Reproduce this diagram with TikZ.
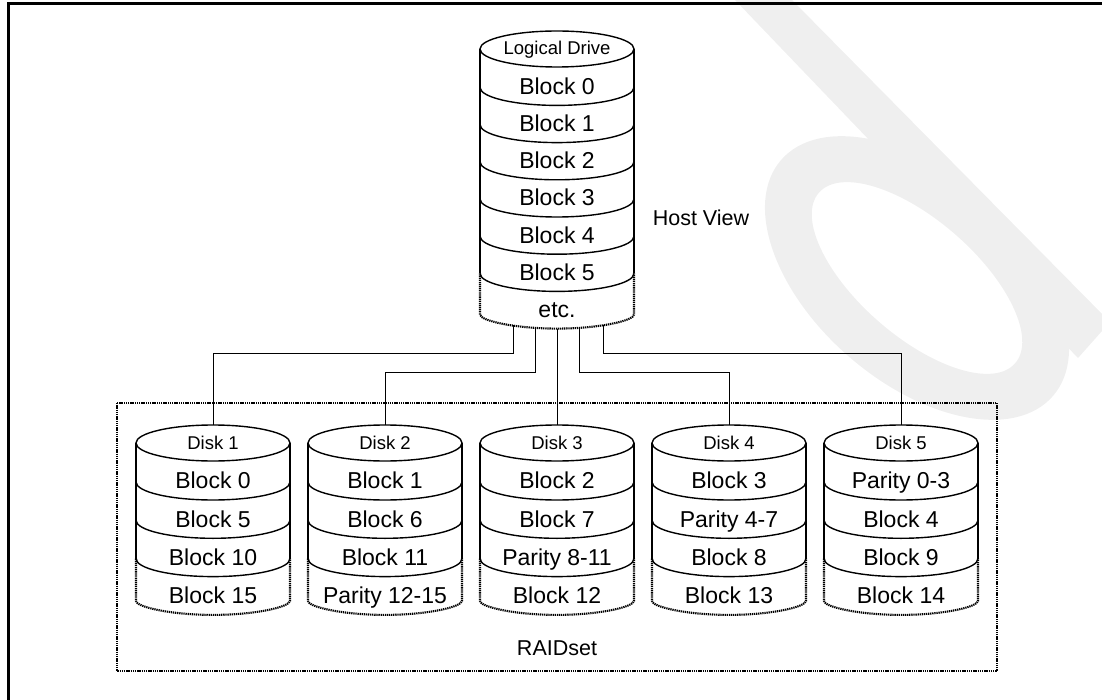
\documentclass[tikz,border=0pt]{standalone}
\usepackage{fontspec}
\setmainfont{Liberation Sans}

% a stacked drum: centre x, top-ellipse centre y, first divider y, row pitch, number of rows
\newcommand{\drum}[5]{%
  \pgfmathsetmacro\drumlast{#3+(#5-2)*#4}%
  \pgfmathsetmacro\drumbot{#3+(#5-1)*#4}%
  \pgfmathtruncatemacro\drumn{#5-1}%
  \draw[drumline] (#1,-#2) ellipse[x radius=77, y radius=18];
  \draw[drumline] (#1-77,-#2) -- (#1-77,-\drumlast) (#1+77,-#2) -- (#1+77,-\drumlast);
  \foreach \k in {1,...,\drumn}{%
    \pgfmathsetmacro\dy{#3+(\k-1)*#4}%
    \draw[drumline] (#1-77,-\dy) arc[start angle=180, end angle=360, x radius=77, y radius=18];
  }
  \draw[drumdots, rounded corners=4] (#1-77,-\drumlast) -- (#1-77,-\drumbot)
     arc[start angle=180, end angle=360, x radius=77, y radius=18] -- (#1+77,-\drumlast);
}

\definecolor{faint}{HTML}{EFEFEF}

\tikzset{
  drumline/.style={line width=1.4pt, black},
  drumdots/.style={line width=2.1pt, black, dash pattern=on 1.3pt off 0.8pt},
  wire/.style={line width=1pt, black},
  blk/.style={font=\fontsize{23}{26}\selectfont, anchor=base, inner sep=0pt},
  drumtitle/.style={font=\fontsize{18.5}{21}\selectfont, anchor=base, inner sep=0pt},
  tag/.style={font=\fontsize{21.5}{24}\selectfont, anchor=base, inner sep=0pt},
}

\begin{document}
\begin{tikzpicture}[x=1pt, y=1pt]
\useasboundingbox (0,0) rectangle (1102,-700);

% faint background mark
\begin{scope}
  \clip (0,0) rectangle (1102,-700);
  \fill[faint] (735,0) -- (792,0) -- (1110,-322) -- (1078,-358) -- cycle;
  \fill[faint, even odd rule, rotate around={-41:(917,-278)}]
    (917,-278) ellipse[x radius=180, y radius=104]
    (917,-278) ellipse[x radius=130, y radius=58];
\end{scope}

% frame
\draw[line width=3pt] (8.5,-700) -- (8.5,-4) -- (1102,-4);

% host view drum
\drum{557}{49}{87.4}{37.2}{7}
\node[drumtitle] (ldname) at (557,-54.6) {Logical Drive};
\foreach \t [count=\i from 0] in {Block 0,Block 1,Block 2,Block 3,Block 4,Block 5,etc.}{
  \pgfmathsetmacro\ly{86.2+37.2*\i+8.2}
  \node[blk] (ld\i) at (557,-\ly) {\t};
}
\node[tag] (host) at (701,-225.6) {Host View};

% RAID set frame
\draw[line width=2.5pt, dash pattern=on 1.4pt off 0.8pt] (117,-403) rectangle (997,-671);
\node[tag] (raidset) at (557,-655.8) {RAIDset};

% member disks
\foreach \cx/\n/\a/\b/\c/\d in {
  213/1/Block 0/Block 5/Block 10/Block 15,
  385/2/Block 1/Block 6/Block 11/Parity 12-15,
  557/3/Block 2/Block 7/Parity 8-11/Block 12,
  729/4/Block 3/Parity 4-7/Block 8/Block 13,
  901/5/Parity 0-3/Block 4/Block 9/Block 14}{
  \drum{\cx}{443}{482}{38.3}{4}
  \node[drumtitle] (disk\n) at (\cx,-449.5) {Disk \n};
  \node[blk] (d\n r1) at (\cx,-488.7) {\a};
  \node[blk] (d\n r2) at (\cx,-527.35) {\b};
  \node[blk] (d\n r3) at (\cx,-565.65) {\c};
  \node[blk] (d\n r4) at (\cx,-603.95) {\d};
  \coordinate (top\n) at (\cx,-425);
}

% taps on the bottom of the host drum
\coordinate (tapA) at (513,-325.4);
\coordinate (tapB) at (535,-327.9);
\coordinate (tapC) at (557,-328.6);
\coordinate (tapD) at (579,-327.9);
\coordinate (tapE) at (603,-325.2);

\draw[wire] (tapA) -- (513,-353) -| (top1);
\draw[wire] (tapB) -- (535,-372) -| (top2);
\draw[wire] (tapC) -- (top3);
\draw[wire] (tapD) -- (579,-372) -| (top4);
\draw[wire] (tapE) -- (603,-353) -| (top5);
\end{tikzpicture}
\end{document}
